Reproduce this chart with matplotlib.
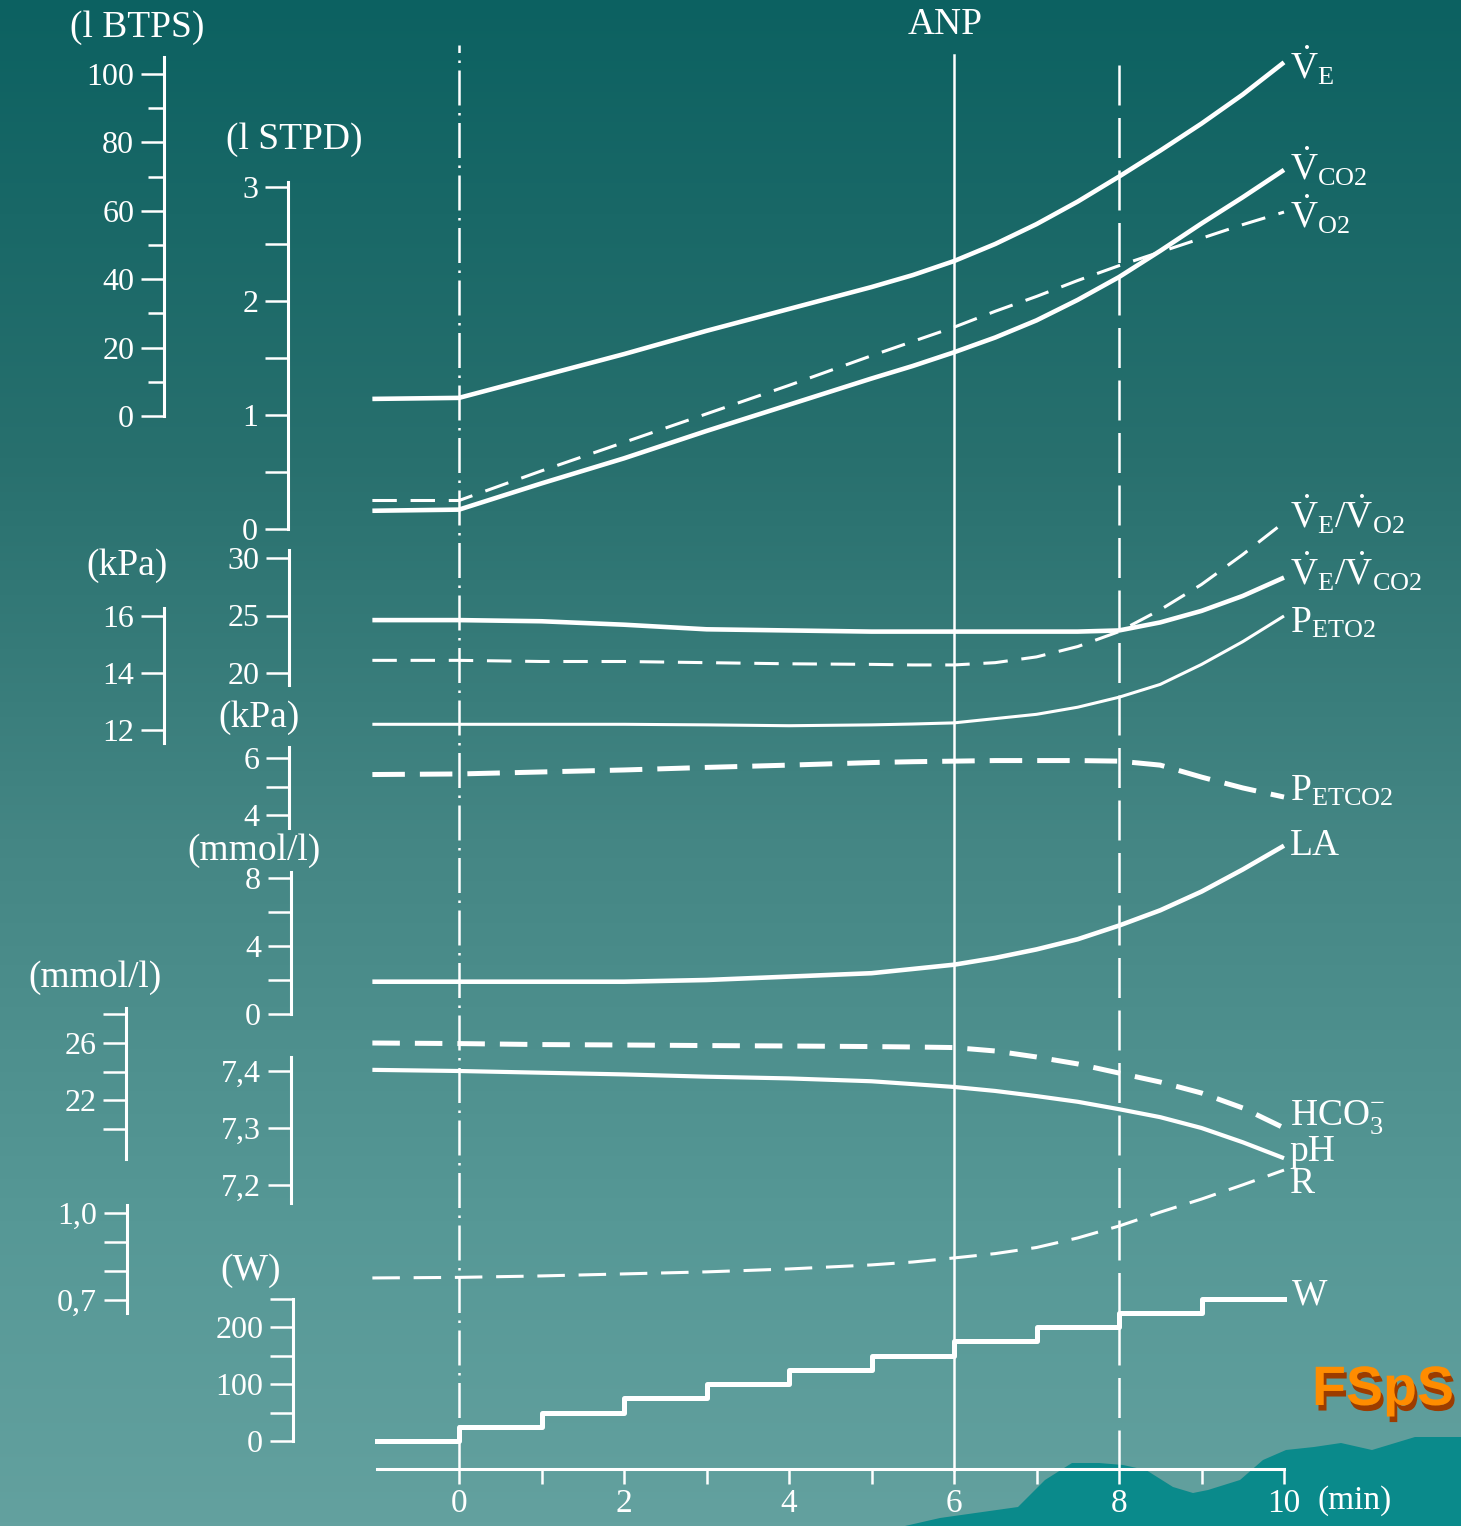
import numpy as np
import matplotlib
matplotlib.use('Agg')
import matplotlib.pyplot as plt
import matplotlib.patheffects as pe

W_PX, H_PX = 1461, 1526
DPI = 100

plt.rcParams['font.family'] = ['Liberation Serif', 'DejaVu Serif']
plt.rcParams['mathtext.fontset'] = 'custom'
plt.rcParams['mathtext.rm'] = 'Liberation Serif'
plt.rcParams['mathtext.it'] = 'Liberation Serif:italic'
plt.rcParams['mathtext.bf'] = 'Liberation Serif:bold'

# ---- data (time in min) ----
t = [-1.05, 0, 1, 2, 3, 4, 5, 5.5, 6, 6.5, 7, 7.5, 8, 8.5, 9, 9.5, 10]

ve = [5.0, 5.3, 11.7, 18.1, 24.9, 31.3, 37.7, 41.2, 45.3, 50.3, 56.1, 62.7, 70.0, 77.6, 85.5, 94.0, 103.4]   # l BTPS
vco2 = [0.16, 0.17, 0.40, 0.62, 0.86, 1.09, 1.32, 1.43, 1.55, 1.68, 1.83, 2.01, 2.21, 2.44, 2.68, 2.91, 3.15]  # l STPD
vo2 = [0.25, 0.25, 0.51, 0.76, 1.01, 1.26, 1.52, 1.645, 1.77, 1.91, 2.04, 2.18, 2.31, 2.43, 2.55, 2.67, 2.78]
ve_vo2 = [21.1, 21.1, 21.0, 21.0, 20.9, 20.8, 20.75, 20.7, 20.7, 20.9, 21.4, 22.3, 23.6, 25.5, 27.7, 30.3, 33.1]
ve_vco2 = [24.6, 24.6, 24.5, 24.2, 23.8, 23.7, 23.6, 23.6, 23.6, 23.6, 23.6, 23.6, 23.7, 24.4, 25.4, 26.7, 28.3]
peto2 = [12.2, 12.2, 12.2, 12.2, 12.18, 12.15, 12.18, 12.21, 12.25, 12.4, 12.55, 12.8, 13.15, 13.6, 14.3, 15.1, 16.0]  # kPa
petco2 = [5.42, 5.44, 5.51, 5.58, 5.67, 5.75, 5.84, 5.87, 5.89, 5.91, 5.91, 5.91, 5.89, 5.75, 5.33, 4.95, 4.63]  # kPa
la = [1.9, 1.9, 1.9, 1.9, 2.0, 2.2, 2.4, 2.65, 2.9, 3.3, 3.8, 4.4, 5.2, 6.1, 7.2, 8.5, 9.9]  # mmol/l
hco3 = [26.0, 25.96, 25.89, 25.86, 25.82, 25.79, 25.75, 25.72, 25.68, 25.44, 25.02, 24.53, 23.89, 23.26, 22.49, 21.44, 20.04]
ph = [7.402, 7.400, 7.397, 7.394, 7.390, 7.387, 7.382, 7.377, 7.372, 7.365, 7.356, 7.346, 7.333, 7.319, 7.300, 7.275, 7.247]
r = [0.776, 0.778, 0.783, 0.790, 0.797, 0.807, 0.821, 0.831, 0.845, 0.860, 0.881, 0.914, 0.955, 1.003, 1.048, 1.097, 1.148]

w_t = [-1, 0, 1, 2, 3, 4, 5, 6, 7, 8, 9, 10]
w = [0, 25, 50, 75, 100, 125, 150, 175, 200, 225, 250, 250]  # W

x_ticks = list(range(11))
x_labels = ['0', '', '2', '', '4', '', '6', '', '8', '', '10']
marks = [0, 6, 8]  # start, ANP, 8 min

# ---- layout helpers (pixel based) ----
X0, PXMIN = 459, 82.5
XMIN, XMAX = -X0 / PXMIN, (W_PX - X0) / PXMIN
WHITE = 'white'
TICK_FS, NAME_FS, CAP_FS = 23, 27, 27


def yfrac(py):
    return 1 - py / H_PX


fig = plt.figure(figsize=(W_PX / DPI, H_PX / DPI), dpi=DPI)

# background gradient
ax_bg = fig.add_axes([0, 0, 1, 1])
stops = [0, 0.3, 0.55, 0.8, 1]
cols = np.array([[12, 97, 97], [40, 112, 110], [68, 134, 132], [86, 152, 150], [99, 161, 159]]) / 255
yy = np.linspace(0, 1, 400)
grad = np.stack([np.interp(yy, stops, cols[:, i]) for i in range(3)], axis=1)[:, None, :]
ax_bg.imshow(grad, extent=(0, W_PX, H_PX, 0), aspect='auto')
ax_bg.set_xlim(0, W_PX)
ax_bg.set_ylim(H_PX, 0)
ax_bg.axis('off')

# decorative hills + logo in the bottom right corner
hill_x = [905, 940, 1018, 1045, 1072, 1099, 1123, 1146, 1173, 1193, 1208, 1240, 1263, 1286, 1314, 1341, 1372, 1415, 1461, 1461]
hill_y = [1526, 1518, 1507, 1480, 1463, 1463, 1465, 1470, 1487, 1493, 1490, 1480, 1460, 1450, 1447, 1443, 1450, 1437, 1437, 1526]
ax_bg.fill(hill_x, hill_y, color='#0a8a8b', lw=0)
ax_bg.text(1312, 1405, 'FSpS', fontsize=40, fontweight='bold',
           family=['Liberation Sans', 'DejaVu Sans'],
           color='#ff8c00', ha='left', va='baseline',
           path_effects=[pe.withSimplePatchShadow(offset=(2, -4), shadow_rgbFace='#9c3c00', alpha=1)])


def scale_axes(v1, p1, v2, p2, spine_px, bounds, major, labels, minor=(), minor_len=16.5):
    ax = fig.add_axes([0, 0, 1, 1], facecolor='none')
    k = (v2 - v1) / (p2 - p1)
    ax.set_xlim(XMIN, XMAX)
    ax.set_ylim(v1 + k * (H_PX - p1), v1 + k * (0 - p1))
    for s in ['top', 'right', 'bottom']:
        ax.spines[s].set_visible(False)
    sp = ax.spines['left']
    sp.set_position(('axes', spine_px / W_PX))
    sp.set_bounds(*bounds)
    sp.set_color(WHITE)
    sp.set_linewidth(2.2)
    ax.set_xticks([])
    ax.set_yticks(major)
    ax.set_yticklabels(labels)
    ax.set_yticks(minor, minor=True)
    ax.tick_params(axis='y', which='major', direction='out', length=16.5, width=1.8,
                   colors=WHITE, labelsize=TICK_FS, pad=5)
    ax.tick_params(axis='y', which='minor', direction='out', length=minor_len, width=1.8, colors=WHITE)
    return ax


ax_btps = scale_axes(0, 416, 100, 74, 164, (0, 105), [0, 20, 40, 60, 80, 100],
                     ['0', '20', '40', '60', '80', '100'], [10, 30, 50, 70, 90], minor_len=11.5)
ax_stpd = scale_axes(0, 529, 3, 187, 288, (0, 3.04), [0, 1, 2, 3], ['0', '1', '2', '3'], [0.5, 1.5, 2.5])
ax_po2 = scale_axes(12, 730, 16, 616, 164, (11.55, 16.28), [12, 14, 16], ['12', '14', '16'])
ax_eq = scale_axes(20, 673, 30, 558, 289, (18.95, 30.7), [20, 25, 30], ['20', '25', '30'])
ax_pco2 = scale_axes(4, 815, 6, 758, 289, (3.55, 6.4), [4, 6], ['4', '6'], [5])
ax_la = scale_axes(0, 1014, 8, 878, 291, (0, 8.35), [0, 4, 8], ['0', '4', '8'], [2, 6])
ax_hco3 = scale_axes(22, 1100, 26, 1043, 126, (17.85, 28.45), [22, 26], ['22', '26'], [20, 24, 28])
ax_ph = scale_axes(7.2, 1185, 7.4, 1071, 291, (7.168, 7.425), [7.2, 7.3, 7.4], ['7,2', '7,3', '7,4'])
ax_r = scale_axes(0.7, 1300, 1.0, 1213, 127, (0.655, 1.027), [0.7, 1.0], ['0,7', '1,0'], [0.8, 0.9])
ax_w = scale_axes(0, 1441, 200, 1327, 293, (0, 250), [0, 100, 200], ['0', '100', '200'], [50, 150, 250])

# time axis
ax_x = fig.add_axes([0, 0, 1, 1], facecolor='none')
ax_x.set_xlim(XMIN, XMAX)
ax_x.set_ylim(0, 1)
for s in ['top', 'right', 'left']:
    ax_x.spines[s].set_visible(False)
ax_x.spines['bottom'].set_position(('axes', yfrac(1469)))
ax_x.spines['bottom'].set_bounds(-1, 10)
ax_x.spines['bottom'].set_color(WHITE)
ax_x.spines['bottom'].set_linewidth(2.2)
ax_x.set_yticks([])
ax_x.set_xticks(x_ticks)
ax_x.set_xticklabels(x_labels)
ax_x.tick_params(axis='x', direction='out', length=11, width=1.8, colors=WHITE, labelsize=TICK_FS + 1, pad=3)
ax_x.annotate('(min)', xy=(10, yfrac(1469)), xycoords=('data', 'axes fraction'),
              xytext=(24, -23), textcoords='offset points', ha='left', va='center',
              color=WHITE, fontsize=TICK_FS + 1)

# vertical marker lines
ax_x.axvline(marks[0], ymin=yfrac(1470), ymax=yfrac(45), color=WHITE, lw=1.8, ls=(0, (14, 3, 1, 3)))
ax_x.axvline(marks[1], ymin=yfrac(1470), ymax=yfrac(55), color=WHITE, lw=1.8)
ax_x.axvline(marks[2], ymin=yfrac(1470), ymax=yfrac(55), color=WHITE, lw=1.8, ls=(0, (16, 5)))

# curves
solid = dict(color=WHITE, solid_capstyle='butt', solid_joinstyle='round')
ax_btps.plot(t, ve, lw=3.3, **solid)
ax_stpd.plot(t, vco2, lw=3.3, **solid)
ax_stpd.plot(t, vo2, lw=2.2, color=WHITE, dashes=(8, 4.5))
ax_eq.plot(t, ve_vco2, lw=3.3, **solid)
ax_eq.plot(t, ve_vo2, lw=2.2, color=WHITE, dashes=(8, 4.5))
ax_po2.plot(t, peto2, lw=2.2, **solid)
ax_pco2.plot(t, petco2, lw=3.6, color=WHITE, dashes=(6.5, 3))
ax_la.plot(t, la, lw=3.3, **solid)
ax_hco3.plot(t, hco3, lw=3.6, color=WHITE, dashes=(5.5, 3))
ax_ph.plot(t, ph, lw=3.0, **solid)
ax_r.plot(t, r, lw=2.2, color=WHITE, dashes=(9, 4.5))
ax_w.step(w_t, w, where='post', lw=3.6, color=WHITE)

# curve names at the right end
names = [
    (ax_btps, ve, r'$\dot{\mathrm{V}}_{\mathrm{E}}$', -3),
    (ax_stpd, vco2, r'$\dot{\mathrm{V}}_{\mathrm{CO2}}$', 2),
    (ax_stpd, vo2, r'$\dot{\mathrm{V}}_{\mathrm{O2}}$', -2),
    (ax_eq, ve_vo2, r'$\dot{\mathrm{V}}_{\mathrm{E}}/\dot{\mathrm{V}}_{\mathrm{O2}}$', 5),
    (ax_eq, ve_vco2, r'$\dot{\mathrm{V}}_{\mathrm{E}}/\dot{\mathrm{V}}_{\mathrm{CO2}}$', 4),
    (ax_po2, peto2, r'$\mathrm{P}_{\mathrm{ETO2}}$', -5),
    (ax_pco2, petco2, r'$\mathrm{P}_{\mathrm{ETCO2}}$', 4),
    (ax_la, la, 'LA', 0),
    (ax_hco3, hco3, r'$\mathrm{HCO}_{3}^{-}$', 8),
    (ax_ph, ph, 'pH', 5),
    (ax_r, r, 'R', -10),
]
for ax, vals, txt, dy in names:
    ax.annotate(txt, xy=(t[-1], vals[-1]), xytext=(4, dy), textcoords='offset points',
                ha='left', va='center', color=WHITE, fontsize=NAME_FS)
ax_w.annotate('W', xy=(w_t[-1], w[-1]), xytext=(6, 2), textcoords='offset points',
              ha='left', va='center', color=WHITE, fontsize=NAME_FS)

# unit captions and ANP
captions = [('(l BTPS)', 137, 28), ('(l STPD)', 294, 140), ('(kPa)', 127, 566), ('(kPa)', 259, 718),
            ('(mmol/l)', 254, 851), ('(mmol/l)', 95, 978), ('(W)', 251, 1271), ('ANP', 945, 25)]
for txt, px, py in captions:
    fig.text(px / W_PX, yfrac(py), txt, ha='center', va='center', color=WHITE, fontsize=CAP_FS)

fig.savefig('out.png', dpi=DPI)
